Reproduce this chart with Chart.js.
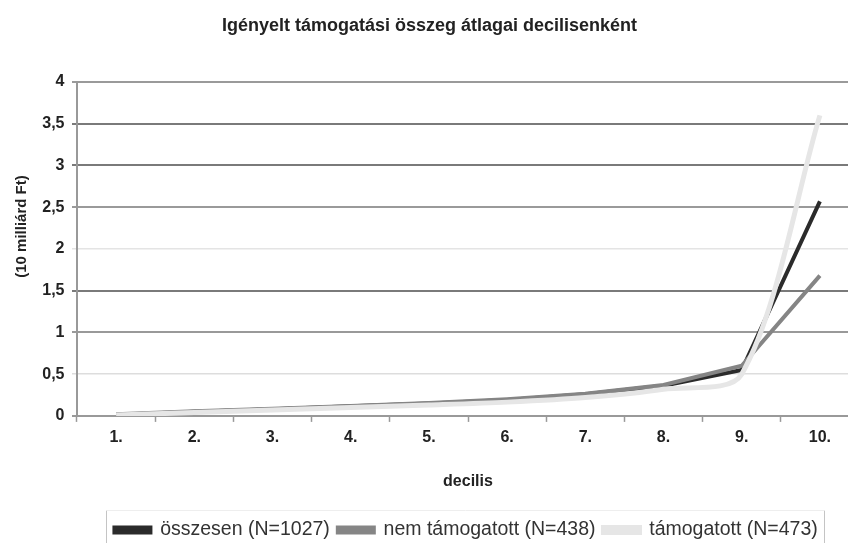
<!DOCTYPE html>
<html>
<head>
<meta charset="utf-8">
<script src="https://cdn.jsdelivr.net/npm/chart.js@4.4.1/dist/chart.umd.min.js"></script>
<style>
  html, body { margin: 0; padding: 0; background: #fff; overflow: hidden; }
  canvas { display: block; }
</style>
</head>
<body>
<canvas id="c" width="860" height="543"></canvas>
<script>
const categories = ['1.', '2.', '3.', '4.', '5.', '6.', '7.', '8.', '9.', '10.'];
const osszesen = [0.015, 0.05, 0.08, 0.115, 0.15, 0.19, 0.26, 0.36, 0.55, 2.57];
const nemTamogatott = [0.02, 0.055, 0.085, 0.12, 0.155, 0.2, 0.265, 0.37, 0.6, 1.68];
const tamogatott = [0.01, 0.04, 0.07, 0.1, 0.13, 0.165, 0.22, 0.32, 0.5, 3.6];
const yTickLabels = ['0', '0,5', '1', '1,5', '2', '2,5', '3', '3,5', '4'];
const seriesNames = ['összesen (N=1027)', 'nem támogatott (N=438)', 'támogatott (N=473)'];

const chartTitle = 'Igényelt támogatási összeg átlagai decilisenként';
const xTitle = 'decilis';
const yTitle = '(10 milliárd Ft)';

const gridColors = ['#999999', '#dddddd', '#999999', '#7a7a7a', '#e4e4e4', '#9a9a9a', '#7a7a7a', '#7a7a7a', '#9a9a9a'];
const SANS = '"Liberation Sans", Arial, sans-serif';

const decor = {
  id: 'decor',
  afterLayout(chart) {
    const lg = chart.legend;
    if (lg) { lg.left += 36.6; lg.right += 36.6; lg.top += 6.7; lg.bottom += 6.7; }
  },
  afterDraw(chart) {
    const ctx = chart.ctx;
    const lg = chart.legend;
    if (lg && lg.lineWidths) {
      const pad = lg.options.labels.padding;
      const lw = lg.lineWidths[0];
      const x0 = (lg.left + pad + lg.right - lw) / 2;
      const x1 = x0 + lw - pad;
      const xl = Math.round(x0 - 8) + 0.5;
      const xr = Math.round(x1 + 6) + 0.5;
      ctx.save();
      ctx.lineWidth = 1;
      ctx.strokeStyle = '#c4c4c4';
      ctx.beginPath();
      ctx.moveTo(xl, 543); ctx.lineTo(xl, 510.5);
      ctx.moveTo(xr, 543); ctx.lineTo(xr, 510.5);
      ctx.stroke();
      ctx.beginPath();
      ctx.strokeStyle = '#eeeeee';
      ctx.moveTo(xl, 510.5); ctx.lineTo(xr, 510.5);
      ctx.stroke();
      ctx.restore();
    }
    ctx.save();
    ctx.translate(22, 226.5);
    ctx.rotate(-Math.PI / 2);
    ctx.font = 'bold 15px ' + SANS;
    ctx.fillStyle = '#222';
    ctx.textAlign = 'center';
    ctx.textBaseline = 'middle';
    ctx.fillText(yTitle, 0, 0);
    ctx.restore();
  }
};

new Chart(document.getElementById('c'), {
  type: 'line',
  data: {
    labels: categories,
    datasets: [
      { label: seriesNames[0], data: osszesen, borderColor: '#2b2b2b', backgroundColor: '#2b2b2b', borderWidth: 4, pointRadius: 0, tension: 0, order: 2 },
      { label: seriesNames[1], data: nemTamogatott, borderColor: '#858585', backgroundColor: '#858585', borderWidth: 4, pointRadius: 0, tension: 0, order: 1 },
      { label: seriesNames[2], data: tamogatott, borderColor: '#e6e6e6', backgroundColor: '#e6e6e6', borderWidth: 5, pointRadius: 0, tension: 0.3, order: 0 }
    ]
  },
  options: {
    responsive: false,
    animation: false,
    devicePixelRatio: 1,
    layout: { padding: { left: 0, right: 1, top: 0, bottom: 0 } },
    plugins: {
      title: {
        display: true,
        text: chartTitle,
        color: '#222',
        font: { family: SANS, size: 18, weight: 'bold' },
        padding: { top: 15, bottom: 45.4 }
      },
      legend: {
        position: 'bottom',
        labels: {
          sort: (a, b) => a.datasetIndex - b.datasetIndex,
          boxWidth: 36,
          boxHeight: 5,
          padding: 8,
          color: '#333',
          font: { family: SANS, size: 19.5 }
        }
      },
      tooltip: { enabled: false }
    },
    scales: {
      x: {
        offset: true,
        grid: { display: true, drawOnChartArea: false, drawTicks: true, offset: true, tickLength: 6, tickColor: '#999', tickWidth: 1.5 },
        border: { display: true, color: '#999', width: 2 },
        ticks: { color: '#222', padding: 6.4, font: { family: SANS, size: 16, weight: 'bold' }, maxRotation: 0, autoSkip: false },
        title: { display: true, text: xTitle, color: '#222', font: { family: SANS, size: 16, weight: 'bold' }, padding: { top: 4, bottom: 14 } },
        afterFit(scale) { scale.height = 89.6; }
      },
      y: {
        min: 0,
        max: 4,
        ticks: {
          stepSize: 0.5,
          color: '#222',
          padding: 7.5,
          font: { family: SANS, size: 16, weight: 'bold' },
          callback: (v, i) => yTickLabels[i]
        },
        grid: {
          color: (c) => gridColors[c.index] || '#999',
          lineWidth: (c) => (c.index === 1 || c.index === 4) ? 1.5 : 2,
          tickLength: 5,
          drawTicks: true
        },
        border: { display: true, color: '#999', width: 2 },
        afterFit(scale) { scale.width = 77; }
      }
    }
  },
  plugins: [decor]
});
</script>
</body>
</html>
